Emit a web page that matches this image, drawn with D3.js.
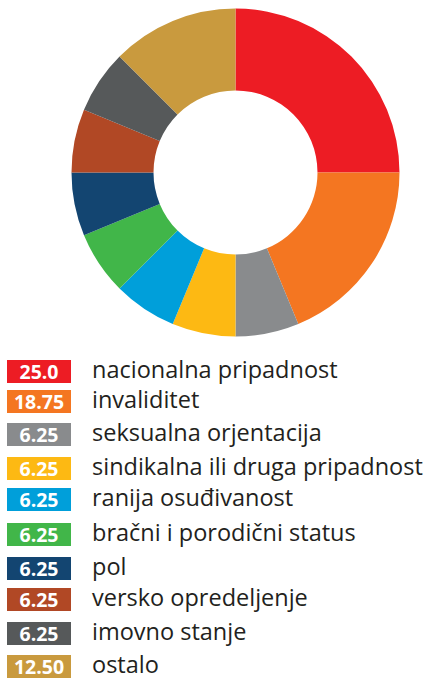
<!DOCTYPE html>
<html>
<head>
<meta charset="utf-8">
<script src="https://cdn.jsdelivr.net/npm/d3@7"></script>
<style>
  body { margin: 0; background: #fff; }
  svg { display: block; }
</style>
</head>
<body>
<svg id="chart"></svg>
<script>
// Data
const categories = [
    "nacionalna pripadnost",
    "invaliditet",
    "seksualna orjentacija",
    "sindikalna ili druga pripadnost",
    "ranija osuđivanost",
    "bračni i porodični status",
    "pol",
    "versko opredeljenje",
    "imovno stanje",
    "ostalo"
];
const values = [25.0, 18.75, 6.25, 6.25, 6.25, 6.25, 6.25, 6.25, 6.25, 12.50];
const valueLabels = ["25.0", "18.75", "6.25", "6.25", "6.25", "6.25", "6.25", "6.25", "6.25", "12.50"];
const colors = ["#ed1c24", "#f47621", "#898b8d", "#fdb913", "#009fda", "#41b649", "#134571", "#b14825", "#56595a", "#c99a3e"];

// Layout
const width = 425, height = 681;
const cx = 235.5, cy = 172.5;
const outerR = 164, innerR = 82;
const rowTops = [360, 390, 423, 457, 488, 523, 557, 588, 622, 655];

const svg = d3.select("#chart")
    .attr("width", width)
    .attr("height", height);

// Donut
const pie = d3.pie().sort(null).value(d => d);
const arc = d3.arc().innerRadius(innerR).outerRadius(outerR);

svg.append("g")
    .attr("transform", `translate(${cx},${cy})`)
    .selectAll("path")
    .data(pie(values))
    .enter()
    .append("path")
    .attr("d", arc)
    .attr("fill", (d, i) => colors[i]);

// Legend
const legend = svg.append("g");

const rows = legend.selectAll("g.row")
    .data(categories)
    .enter()
    .append("g")
    .attr("class", "row")
    .attr("transform", (d, i) => `translate(0,${rowTops[i]})`);

rows.append("rect")
    .attr("x", 7)
    .attr("y", 0)
    .attr("width", 64)
    .attr("height", 23)
    .attr("fill", (d, i) => colors[i]);

rows.append("text")
    .attr("x", 39)
    .attr("y", 18.5)
    .attr("text-anchor", "middle")
    .style("font-family", "'Open Sans', sans-serif")
    .style("font-weight", "bold")
    .style("font-size", "19.5px")
    .style("fill", "#fff")
    .text((d, i) => valueLabels[i]);

rows.append("text")
    .attr("x", 92)
    .attr("y", 17.5)
    .style("font-family", "'Open Sans', sans-serif")
    .style("font-size", "23.5px")
    .style("fill", "#231f20")
    .text(d => d);
</script>
</body>
</html>
